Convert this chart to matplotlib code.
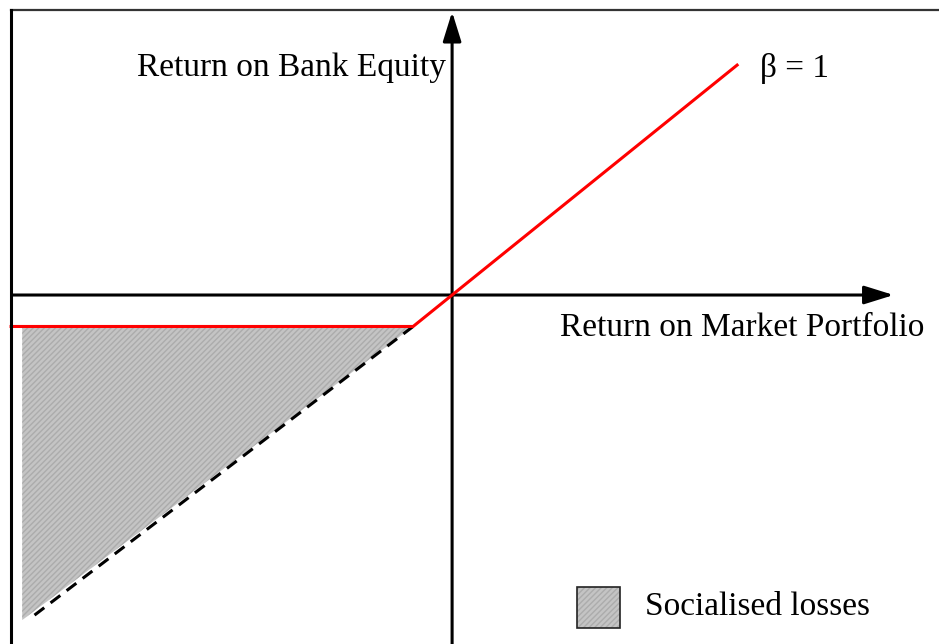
import matplotlib.pyplot as plt
import numpy as np

# payoff of bank equity vs market portfolio (beta = 1, limited liability floor)
floor = -0.13
red_x = [-1.47, -0.13, 0.95]
red_y = [-0.13, -0.13, 0.95]
dash_x = [-0.13, -1.405]
dash_y = [-0.13, -1.335]
fill_x = np.array([-1.433, -0.13])
fill_y = np.array([-1.343, -0.13])

fig = plt.figure(figsize=(9.39, 6.44), dpi=100)
ax = fig.add_axes([0, 0, 1, 1])
ax.set_xlim(-1.507, 1.623)
ax.set_ylim(-1.442, 1.219)
ax.axis('off')

serif = ['Liberation Serif', 'DejaVu Serif']

# frame (top and left only)
fig.add_artist(plt.Line2D([10.5 / 939, 1], [1 - 9.5 / 644] * 2, color='#333333', lw=1.6))
fig.add_artist(plt.Line2D([10.5 / 939] * 2, [0, 1 - 9.5 / 644], color='black', lw=2.2))

# shaded losses
ax.fill_between(fill_x, fill_y, floor, facecolor='#c4c4c4', edgecolor='#acacac',
                hatch='//////', linewidth=0, zorder=1)

# axes with arrows
arrow = dict(arrowstyle='-|>,head_length=0.9,head_width=0.28', lw=2.2,
             color='black', shrinkA=0, shrinkB=0, mutation_scale=20)
ax.annotate('', xy=(1.472, 0), xytext=(-1.467, 0), arrowprops=arrow, zorder=3)
ax.annotate('', xy=(0, 1.17), xytext=(0, -1.442), arrowprops=arrow, zorder=3)

ax.plot(dash_x, dash_y, color='black', lw=2.2, ls=(0, (4, 2.6)), zorder=2)
ax.plot(red_x, red_y, color='red', lw=2.2, solid_joinstyle='miter', zorder=4)

ax.text(-1.05, 0.94, 'Return on Bank Equity', fontsize=24, family=serif,
        ha='left', va='center')
ax.text(0.36, -0.135, 'Return on Market Portfolio', fontsize=24, family=serif,
        ha='left', va='center')
ax.text(1.027, 0.935, 'β = 1', fontsize=24, family=serif, ha='left', va='center')

# legend
ax.add_patch(plt.Rectangle((0.417, -1.376), 0.143, 0.169, facecolor='#c4c4c4',
                           edgecolor='#acacac', hatch='//////', lw=0))
ax.add_patch(plt.Rectangle((0.417, -1.376), 0.143, 0.169, facecolor='none',
                           edgecolor='#222222', lw=1.2))
ax.text(0.643, -1.29, 'Socialised losses', fontsize=24, family=serif,
        ha='left', va='center')

fig.savefig('out.png', dpi=100)
